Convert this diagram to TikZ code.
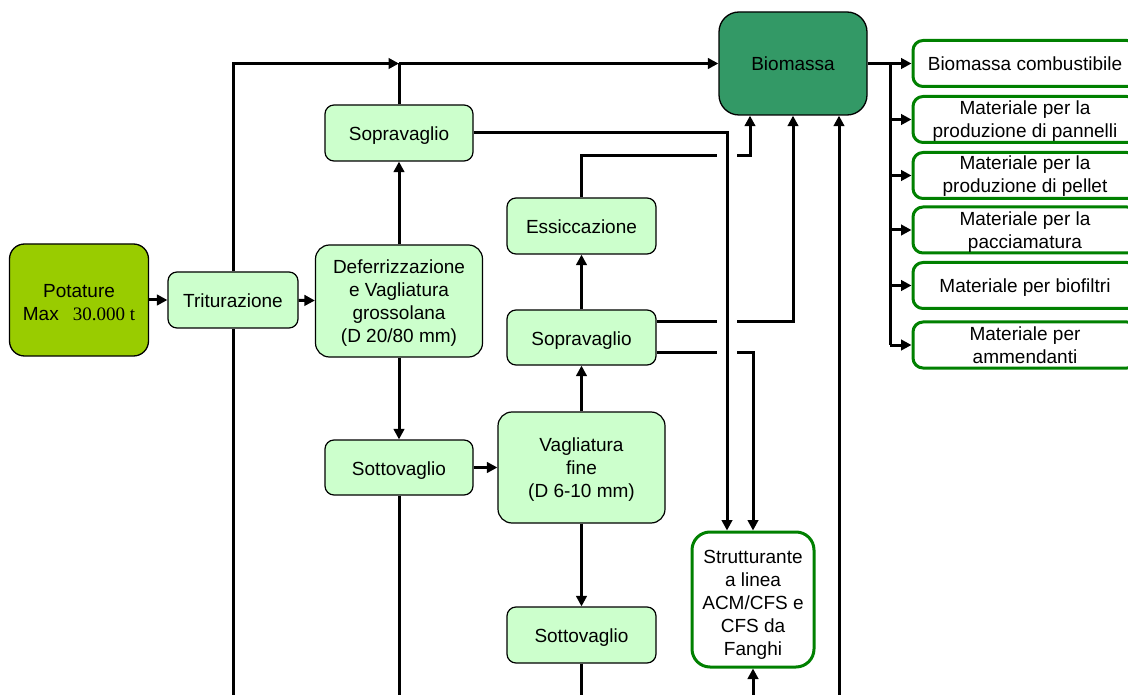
\documentclass[tikz,border=0pt]{standalone}
\usepackage{fontspec}
\setmainfont{Liberation Sans}
\newfontfamily\timesf{Liberation Serif}
\usetikzlibrary{arrows.meta}
\definecolor{potgreen}{HTML}{99CC00}
\definecolor{lightbox}{HTML}{CCFFCC}
\definecolor{biogreen}{HTML}{339966}
\definecolor{outgreen}{HTML}{008000}
\begin{document}
\begin{tikzpicture}[x=1pt,y=-1pt,
  every node/.style={font=\fontsize{19}{23}\selectfont, align=center, inner sep=0pt, text=black},
  one/.style={text height=15pt, text depth=0pt},
  multi/.style={text height=#1, text depth=0pt},
  lbox/.style={draw=black, line width=1.2pt, fill=lightbox, rounded corners=9pt, minimum width=148pt, minimum height=56pt},
  bigbox/.style={lbox, rounded corners=14pt},
  outbox/.style={draw=outgreen, line width=3pt, fill=white, rounded corners=10pt, minimum width=224pt, minimum height=46pt},
  conn/.style={line width=3pt},
  arr/.style={conn, -{Triangle[length=10.5pt,width=10.5pt]}}
]
\useasboundingbox (0,0) rectangle (1128,695);
\clip (0,0) rectangle (1128,695);
\fill[white] (0,0) rectangle (1128,695);

% nodes
\node[draw=black, line width=1.3pt, fill=potgreen, rounded corners=15pt, minimum width=139pt, minimum height=112pt, multi=40pt] (pot) at (79,300) {\fontsize{19}{25}\selectfont Potature\\Max\hspace{14pt}{\timesf 30.000 t}};
\node[lbox, minimum width=130pt, one] (trit) at (233,300) {Triturazione};
\node[bigbox, minimum width=167pt, minimum height=112pt, multi=82pt] (defer) at (399,301) {\fontsize{19}{22.5}\selectfont Deferrizzazione\\e Vagliatura\\grossolana\\(D 20/80 mm)};
\node[lbox, one] (sopra1) at (399,133) {Sopravaglio};
\node[lbox, minimum height=55pt, one] (sotto1) at (399,467.5) {Sottovaglio};
\node[bigbox, minimum width=167pt, minimum height=111pt, multi=59pt] (vag) at (581.5,467.5) {\fontsize{19}{23.5}\selectfont Vagliatura\\fine\\(D 6-10 mm)};
\node[lbox, minimum width=149pt, one] (ess) at (581.5,226) {Essiccazione};
\node[lbox, minimum width=149pt, minimum height=55pt, one] (sopra2) at (581.5,337.5) {Sopravaglio};
\node[lbox, minimum width=149pt, one] (sotto2) at (581.5,635) {Sottovaglio};
\node[draw=outgreen, line width=3pt, fill=white, rounded corners=18pt, minimum width=122pt, minimum height=135pt, multi=111pt] (strutt) at (753,599.5) {\fontsize{19}{23.5}\selectfont Strutturante\\a linea\\ACM/CFS e\\CFS da\\Fanghi};
\node[draw=black, line width=1.3pt, fill=biogreen, rounded corners=20pt, minimum width=148pt, minimum height=103pt, one] (bio) at (793,63.5) {Biomassa};

\node[outbox, one] (r1) at (1025,63.5) {Biomassa combustibile};
\node[outbox, multi=36pt] (r2) at (1025,119.5) {Materiale per la\\produzione di pannelli};
\node[outbox, multi=35pt] (r3) at (1025,175.5) {Materiale per la\\produzione di pellet};
\node[outbox, multi=37pt] (r4) at (1025,230) {Materiale per la\\pacciamatura};
\node[outbox, one] (r5) at (1025,285.5) {Materiale per biofiltri};
\node[outbox, multi=36pt] (r6) at (1025,345) {Materiale per\\ammendanti};

% coordinates
\coordinate (j1) at (399,63.5);
\coordinate (g1l) at (717,156);
\coordinate (g1r) at (737,156);
\coordinate (g2l) at (717,322);
\coordinate (g2r) at (737,322);
\coordinate (g3l) at (717,352);
\coordinate (g3r) at (737,352);
\coordinate (e1) at (233,705);
\coordinate (e2) at (399,705);
\coordinate (e3) at (581.5,705);
\coordinate (e5) at (753,705);
\coordinate (e6) at (839,705);
\coordinate (bus1) at (890,63.5);
\coordinate (bus6) at (890,345);

% connectors
\draw[arr] (pot) -- (trit);
\draw[arr] (trit) -- (defer);
\draw[arr] (trit.north) |- (j1);
\draw[arr] (j1) -- (bio.west);
\draw[conn] (sopra1.north) -- (j1);
\draw[arr] (defer.north) -- (sopra1.south);
\draw[arr] (defer.south) -- (sotto1.north);
\draw[arr] (sotto1) -- (vag);
\draw[arr] (vag.north) -- (sopra2.south);
\draw[arr] (sopra2.north) -- (ess.south);
\draw[arr] (vag.south) -- (sotto2.north);
\draw[conn] (ess.north) |- (g1l);
\draw[arr] (g1r) -| ([xshift=-43pt]bio.south);
\draw[arr] (sopra1.east) -| ([xshift=-26pt]strutt.north);
\draw[conn] ([yshift=15.5pt]sopra2.east) -- (g2l);
\draw[arr] (g2r) -| (bio.south);
\draw[conn] ([yshift=-14.5pt]sopra2.east) -- (g3l);
\draw[arr] (g3r) -| (strutt.north);
\draw[arr] (e5) -- (strutt.south);
\draw[arr] (e6) -- ([xshift=46pt]bio.south);
\draw[conn] (trit.south) -- (e1);
\draw[conn] (sotto1.south) -- (e2);
\draw[conn] (sotto2.south) -- (e3);

\draw[arr] (bio.east) -- (r1.west);
\draw[conn] (bus1) -- (bus6);
\draw[arr] (bus1 |- r2.west) -- (r2.west);
\draw[arr] (bus1 |- r3.west) -- (r3.west);
\draw[arr] (bus1 |- r4.west) -- (r4.west);
\draw[arr] (bus1 |- r5.west) -- (r5.west);
\draw[arr] (bus1 |- r6.west) -- (r6.west);
\end{tikzpicture}
\end{document}
